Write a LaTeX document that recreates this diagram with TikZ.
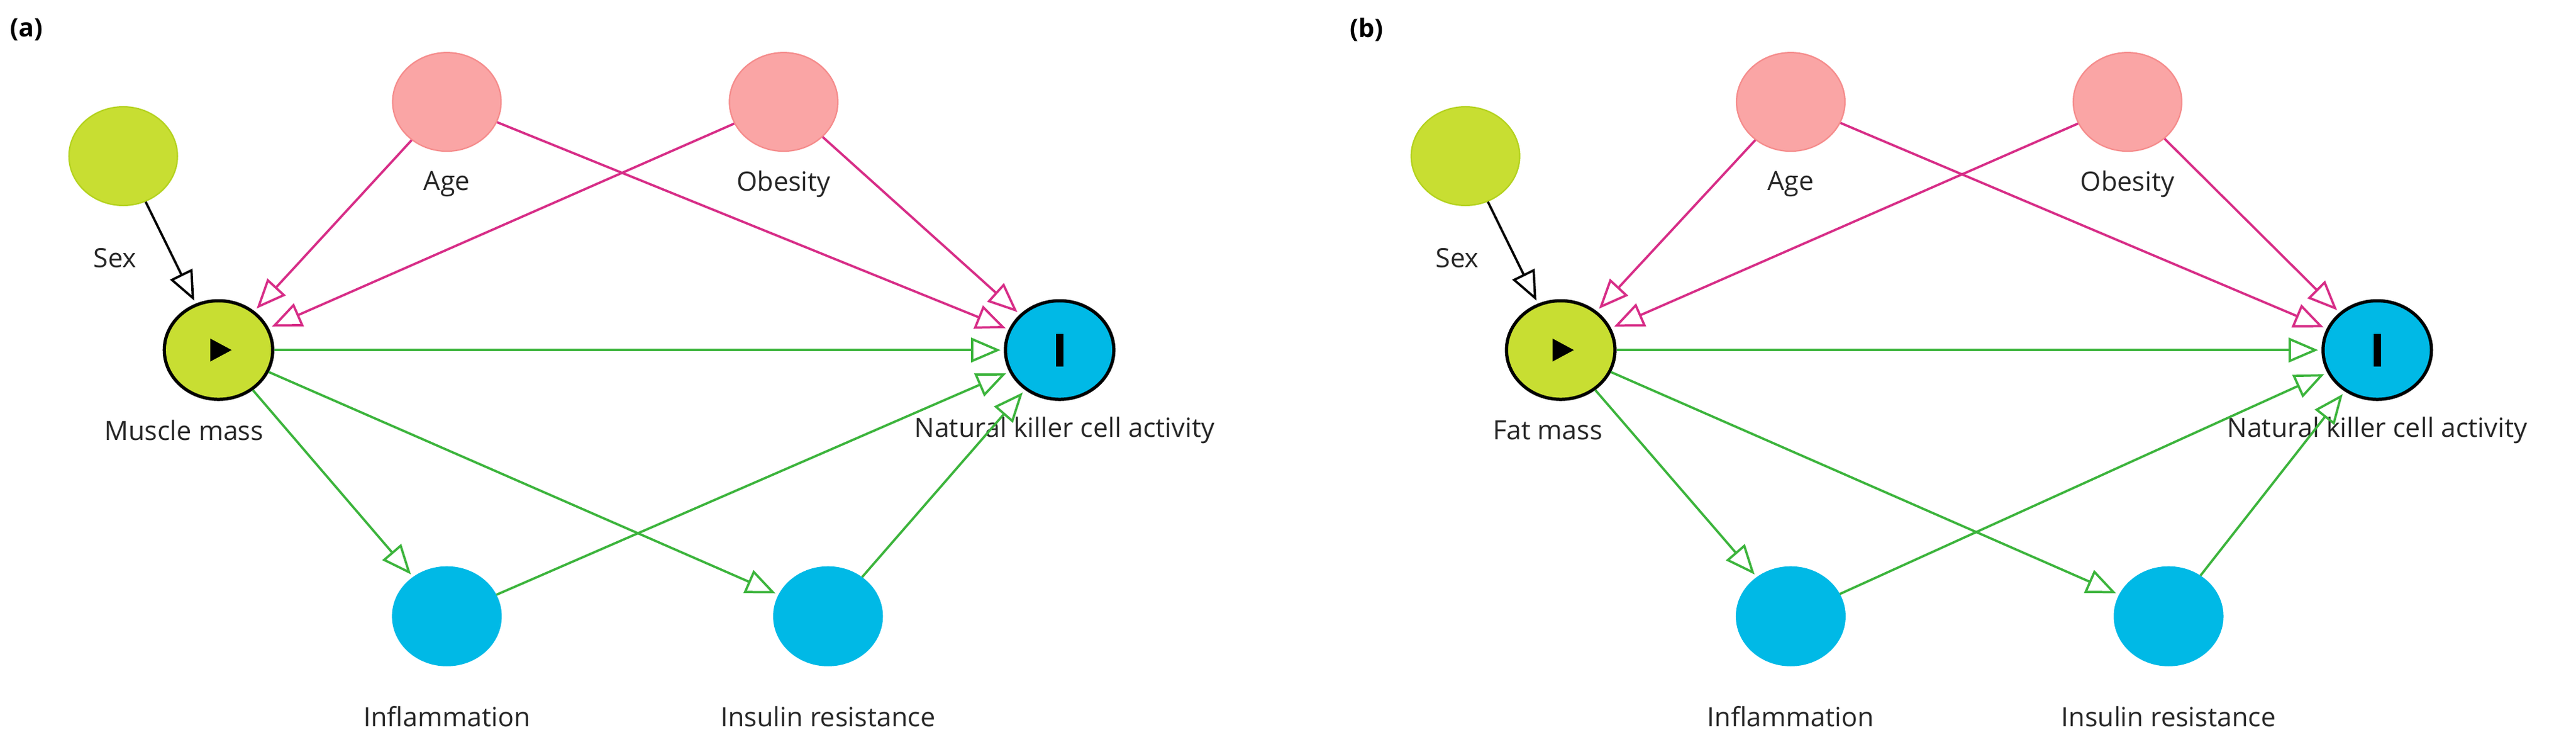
\documentclass[tikz,border=0pt]{standalone}
\usepackage{fontspec}
\setmainfont{Open Sans}
\usetikzlibrary{arrows.meta,shapes.geometric}
\definecolor{lime}{RGB}{200,222,50}
\definecolor{limeb}{RGB}{180,210,30}
\definecolor{pinkf}{RGB}{250,165,165}
\definecolor{pinkb}{RGB}{245,140,140}
\definecolor{cyanf}{RGB}{0,185,230}
\definecolor{pe}{RGB}{215,45,135}
\definecolor{ge}{RGB}{60,180,60}
\tikzset{
 x=0.5mm,y=-0.5mm,
 nd/.style={ellipse,minimum width=33mm,minimum height=30mm,inner sep=0pt,line width=1.2pt},
 sexn/.style={nd,fill=lime,draw=limeb},
 anc/.style={nd,fill=pinkf,draw=pinkb},
 med/.style={nd,fill=cyanf,draw=cyanf},
 expo/.style={nd,fill=lime,draw=black,line width=2.8pt},
 outc/.style={nd,fill=cyanf,draw=black,line width=2.8pt},
 lab/.style={font=\fontsize{23}{27}\selectfont,text=black!85},
 tip/.style={-{Triangle[open,length=9mm,width=7.5mm,line width=2pt]},line width=2pt,shorten >=1mm},
 pa/.style={tip,draw=pe},
 ga/.style={tip,draw=ge},
 ba/.style={tip,draw=black},
}
\begin{document}
\begin{tikzpicture}
\useasboundingbox (0,0) rectangle (1568,444);
% ---------- panel (a)
\node[font=\bfseries\fontsize{22}{26}\selectfont] (pa) at (16,18) {(a)};
\node[sexn] (sa) at (75,95) {};
\node[lab] (sal) at (70,157) {Sex};
\node[anc] (aa) at (272,62) {};
\node[lab] (aal) at (272,112) {Age};
\node[anc] (oa) at (477,62) {};
\node[lab] (oal) at (477,112) {Obesity};
\node[expo] (ma) at (133,213) {};
\fill (ma.center) ++(-5,-7) -- ++(13,7) -- ++(-13,7) -- cycle;
\node[lab] (mal) at (112,262) {Muscle mass};
\node[outc] (na) at (645,213) {};
\fill (na.center) ++(-2.2,-10) rectangle ++(4.4,20);
\node[lab] (nal) at (648,262) {Natural killer cell activity};
\node[med] (ia) at (272,375) {};
\node[lab] (ial) at (272,436) {Inflammation};
\node[med] (ra) at (504,375) {};
\node[lab] (ral) at (504,436) {Insulin resistance};
\draw[ba] (sa) -- (ma);
\draw[pa] (aa) -- (ma);
\draw[pa] (oa) -- (ma);
\draw[pa] (aa) -- (na);
\draw[pa] (oa) -- (na);
\draw[ga] (ma) -- (na);
\draw[ga] (ma) -- (ia);
\draw[ga] (ma) -- (ra);
\draw[ga] (ia) -- (na);
\draw[ga] (ra) -- (na);
% ---------- panel (b)
\node[font=\bfseries\fontsize{22}{26}\selectfont] (pb) at (832,18) {(b)};
\node[sexn] (sb) at (892,95) {};
\node[lab] (sbl) at (887,157) {Sex};
\node[anc] (ab) at (1090,62) {};
\node[lab] (abl) at (1090,112) {Age};
\node[anc] (ob) at (1295,62) {};
\node[lab] (obl) at (1295,112) {Obesity};
\node[expo] (mb) at (950,213) {};
\fill (mb.center) ++(-5,-7) -- ++(13,7) -- ++(-13,7) -- cycle;
\node[lab] (mbl) at (942,262) {Fat mass};
\node[outc] (nb) at (1447,213) {};
\fill (nb.center) ++(-2.2,-10) rectangle ++(4.4,20);
\node[lab] (nbl) at (1447,262) {Natural killer cell activity};
\node[med] (ib) at (1090,375) {};
\node[lab] (ibl) at (1090,436) {Inflammation};
\node[med] (rb) at (1320,375) {};
\node[lab] (rbl) at (1320,436) {Insulin resistance};
\draw[ba] (sb) -- (mb);
\draw[pa] (ab) -- (mb);
\draw[pa] (ob) -- (mb);
\draw[pa] (ab) -- (nb);
\draw[pa] (ob) -- (nb);
\draw[ga] (mb) -- (nb);
\draw[ga] (mb) -- (ib);
\draw[ga] (mb) -- (rb);
\draw[ga] (ib) -- (nb);
\draw[ga] (rb) -- (nb);
\end{tikzpicture}
\end{document}
